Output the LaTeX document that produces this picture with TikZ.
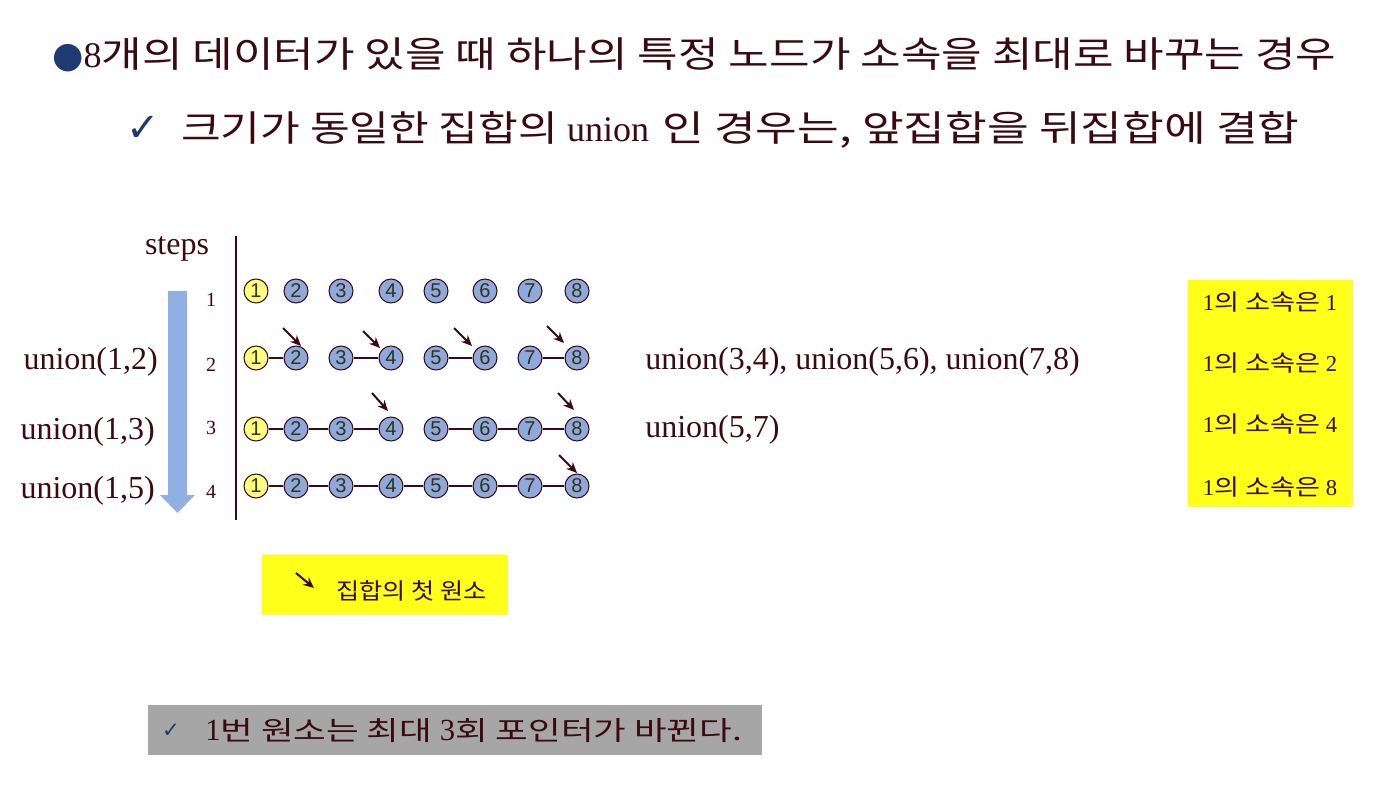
\documentclass[tikz,border=0pt]{standalone}
\usepackage{fontspec}
\setmainfont{Liberation Serif}
\newfontfamily\kr[FakeStretch=1.2]{Noto Sans CJK KR}
\newfontfamily\krt[FakeStretch=1.225]{Noto Sans CJK KR}
\newfontfamily\krb[FakeStretch=1.26]{Noto Sans CJK KR}
\newfontfamily\krl[FakeStretch=1.11]{Noto Sans CJK KR}
\newfontfamily\krn[FakeStretch=1.33]{Noto Sans CJK KR}
\newfontfamily\dv{DejaVu Sans}
\newfontfamily\ls{Liberation Sans}
\usetikzlibrary{arrows.meta,calc}
\definecolor{ink}{HTML}{3A0A14}
\definecolor{numink}{HTML}{333318}
\definecolor{nodeblue}{HTML}{8EAADC}
\definecolor{nodeyel}{HTML}{FFFF80}
\definecolor{bul}{HTML}{1F3A70}
\definecolor{arrowblue}{HTML}{90B0E4}
\definecolor{hl}{HTML}{FFFF1A}
\definecolor{graybox}{HTML}{A6A6A6}
\tikzset{
  elem/.style={circle, draw=ink, line width=0.8pt, fill=nodeblue, minimum size=18pt, inner sep=0pt,
    font=\ls\fontsize{15}{15}\selectfont, text=numink},
  firstelem/.style={elem, fill=nodeyel},
  link/.style={draw=ink, line width=0.8pt},
  ptr/.style={-{Stealth[length=8pt,width=7pt]}, draw=ink, line width=1.5pt},
  biglbl/.style={text=ink, font=\fontsize{24}{28}\selectfont, inner sep=0pt},
  steplbl/.style={text=ink, font=\fontsize{15}{17}\selectfont, inner sep=0pt},
  titlelbl/.style={text=ink, font=\fontsize{27}{32}\selectfont, inner sep=0pt, anchor=west},
  boxlbl/.style={text=ink, font=\fontsize{17}{19}\selectfont, inner sep=0pt},
}
\begin{document}
\begin{tikzpicture}[x=0.75pt,y=-0.75pt]
\useasboundingbox (0,0) rectangle (1388,788);
\fill[white] (0,0) rectangle (1388,788);

% titles
\node[titlelbl] (t1) at (52,55) {\textcolor{bul}{\dv ●}8{\krt 개의 데이터가 있을 때 하나의 특정 노드가 소속을 최대로 바꾸는 경우}};
\node[titlelbl] (t2) at (126,130) {\textcolor{bul}{\dv\fontsize{30}{32}\selectfont ✓}\hspace{16pt}{\kr 크기가 동일한 집합의} union\hspace{3pt} {\krb 인 경우는, 앞집합을 뒤집합에 결합}};

% steps header and axis
\node[biglbl] (steps) at (177,249) {steps};
\coordinate (axtop) at (236,236);
\coordinate (axbot) at (236,520);
\draw[ink, line width=1pt] (axtop) -- (axbot);

% blue down arrow
\fill[arrowblue] (168,291) -- (187,291) -- (187,495) -- (195,495) -- (177.5,513) -- (160,495) -- (168,495) -- cycle;

% step numbers
\node[steplbl] (s1) at (211,300) {1};
\node[steplbl] (s2) at (211,365) {2};
\node[steplbl] (s3) at (211,428) {3};
\node[steplbl] (s4) at (211,492) {4};

% left labels
\node[biglbl, anchor=east] (u12) at (158,362) {union(1,2)};
\node[biglbl, anchor=east] (u13) at (155,432) {union(1,3)};
\node[biglbl, anchor=east] (u15) at (155,491) {union(1,5)};

% element grid
\foreach \y [count=\r] in {291,358,429,486} {
  \node[firstelem] (n\r-1) at (256,\y) {1};
  \foreach \x [count=\i from 2] in {296,341,391,436,485,530,577} {
    \node[elem] (n\r-\i) at (\x,\y) {\i};
  }
}

% links
\foreach \a/\b in {1/2,3/4,5/6,7/8} \draw[link] (n2-\a) -- (n2-\b);
\foreach \a/\b in {1/2,2/3,3/4,5/6,6/7,7/8} \draw[link] (n3-\a) -- (n3-\b);
\foreach \a/\b in {1/2,2/3,3/4,4/5,5/6,6/7,7/8} \draw[link] (n4-\a) -- (n4-\b);

% first-element pointers
\draw[ptr] ($(n2-2)+(-13,-30)$) -- ($(n2-2)+(5,-12)$);
\draw[ptr] ($(n2-4)+(-28,-27)$) -- ($(n2-4)+(-11,-10)$);
\draw[ptr] ($(n2-6)+(-31,-30)$) -- ($(n2-6)+(-13,-12)$);
\draw[ptr] ($(n2-8)+(-30,-32)$) -- ($(n2-8)+(-13,-15)$);
\draw[ptr] ($(n3-4)+(-19,-36)$) -- ($(n3-4)+(-3,-18)$);
\draw[ptr] ($(n3-8)+(-19,-36)$) -- ($(n3-8)+(-3,-19)$);
\draw[ptr] ($(n4-8)+(-18,-31)$) -- ($(n4-8)+(0,-13)$);

% right labels
\node[biglbl, anchor=west] (ur2) at (645,362) {union(3,4), union(5,6), union(7,8)};
\node[biglbl, anchor=west] (ur3) at (645,430) {union(5,7)};

% yellow membership box
\fill[hl] (1188,280) rectangle (1353,507);
\node[boxlbl] (m1) at (1270,302) {1{\kr 의 소속은} 1};
\node[boxlbl] (m2) at (1270,363) {1{\kr 의 소속은} 2};
\node[boxlbl] (m3) at (1270,424) {1{\kr 의 소속은} 4};
\node[boxlbl] (m4) at (1270,487) {1{\kr 의 소속은} 8};

% legend
\fill[hl] (262,555) rectangle (508,615);
\coordinate (lgs) at (296,573);
\coordinate (lge) at (314,588);
\draw[ptr] (lgs) -- (lge);
\node[text=ink, font=\fontsize{17}{19}\selectfont, inner sep=0pt, anchor=west] (lgt) at (336,591) {\krl 집합의 첫 원소};

% bottom note
\fill[graybox] (148,705) rectangle (762,755);
\node[text=bul, font=\dv\fontsize{16}{18}\selectfont, inner sep=0pt] (chk) at (171,731) {✓};
\node[text=ink, font=\fontsize{23}{26}\selectfont, inner sep=0pt, anchor=west] (note) at (205,731) {1{\krn\fontsize{20}{24}\selectfont 번 원소는 최대} 3{\krn\fontsize{20}{24}\selectfont 회 포인터가 바뀐다.}};
\end{tikzpicture}
\end{document}
